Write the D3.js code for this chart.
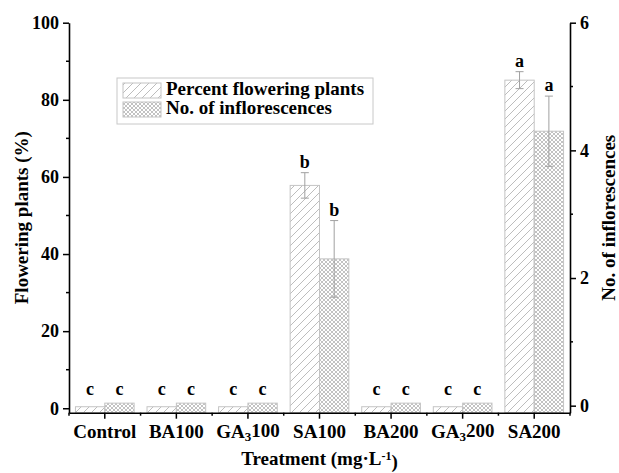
<!DOCTYPE html>
<html>
<head>
<meta charset="utf-8">
<script src="https://cdn.jsdelivr.net/npm/d3@7"></script>
<style>
  body { margin: 0; background: #fff; }
  svg text { font-family: "Liberation Serif", "Times New Roman", serif; font-weight: bold; fill: #000; }
</style>
</head>
<body>
<div id="chart"></div>
<script>
// Data
const treatments = ["Control", "BA100", "GA3100", "SA100", "BA200", "GA3200", "SA200"];
const percentFlowering = [0.4, 0.4, 0.4, 57.8, 0.4, 0.4, 85.1];
const percentErr = [0, 0, 0, 3.3, 0, 0, 2.2];
const percentLetters = ["c", "c", "c", "b", "c", "c", "a"];
const inflorescences = [0.04, 0.04, 0.04, 2.3, 0.04, 0.04, 4.3];
const inflErr = [0, 0, 0, 0.6, 0, 0, 0.55];
const inflLetters = ["c", "c", "c", "b", "c", "c", "a"];
const leftTicks = [0, 20, 40, 60, 80, 100];
const rightTicks = [0, 2, 4, 6];

const W = 619, H = 473;
const plot = {left: 69, right: 570, top: 22.7, bottom: 412.7};

const svg = d3.select("#chart").append("svg")
    .attr("width", W)
    .attr("height", H);

svg.append("rect").attr("width", W).attr("height", H).attr("fill", "#fff");

// patterns
const defs = svg.append("defs");
const hatch = defs.append("pattern")
    .attr("id", "hatch")
    .attr("patternUnits", "userSpaceOnUse")
    .attr("width", 8).attr("height", 8);
hatch.append("path")
    .attr("d", "M-2,10 L10,-2 M-2,2 L2,-2 M6,10 L10,6")
    .attr("stroke", "#b5b5b5").attr("stroke-width", 0.9);

const cross = defs.append("pattern")
    .attr("id", "cross")
    .attr("patternUnits", "userSpaceOnUse")
    .attr("width", 4).attr("height", 4);
cross.append("path")
    .attr("d", "M0,0 L4,4 M4,0 L0,4")
    .attr("stroke", "#a8a8a8").attr("stroke-width", 0.7);

// scales
const x = d3.scaleBand()
    .domain(treatments)
    .range([plot.left, plot.right])
    .padding(0);

const yL = d3.scaleLinear().domain([-1.15, 100]).range([plot.bottom, plot.top]);
const yR = d3.scaleLinear().domain([-0.11, 6]).range([plot.bottom, plot.top]);

const bw = x.bandwidth() * 0.41;

// bars
const g = svg.append("g");
treatments.forEach((t, i) => {
    const cx = x(t) + x.bandwidth() / 2;
    // percent flowering (left axis)
    g.append("rect")
        .attr("x", cx - bw)
        .attr("y", yL(percentFlowering[i]))
        .attr("width", bw)
        .attr("height", plot.bottom - yL(percentFlowering[i]))
        .attr("fill", "url(#hatch)")
        .attr("stroke", "#c4c4c4")
        .attr("stroke-width", 1);
    // inflorescences (right axis)
    g.append("rect")
        .attr("x", cx)
        .attr("y", yR(inflorescences[i]))
        .attr("width", bw)
        .attr("height", plot.bottom - yR(inflorescences[i]))
        .attr("fill", "url(#cross)")
        .attr("stroke", "#c4c4c4")
        .attr("stroke-width", 1);
});

// error bars
function errorBar(xc, yTop, yBot) {
    g.append("line").attr("x1", xc).attr("x2", xc).attr("y1", yTop).attr("y2", yBot)
        .attr("stroke", "#a0a0a0").attr("stroke-width", 1);
    [yTop, yBot].forEach(yy => {
        g.append("line").attr("x1", xc - 4).attr("x2", xc + 4).attr("y1", yy).attr("y2", yy)
            .attr("stroke", "#a0a0a0").attr("stroke-width", 1);
    });
}
treatments.forEach((t, i) => {
    const cx = x(t) + x.bandwidth() / 2;
    const xp = cx - bw / 2, xi = cx + bw / 2;
    if (percentErr[i] > 0) errorBar(xp, yL(percentFlowering[i] + percentErr[i]), yL(percentFlowering[i] - percentErr[i]));
    if (inflErr[i] > 0) errorBar(xi, yR(inflorescences[i] + inflErr[i]), yR(inflorescences[i] - inflErr[i]));

    const ypTop = Math.min(yL(percentFlowering[i] + percentErr[i]) - 5, yL(0) - 13);
    const yiTop = Math.min(yR(inflorescences[i] + inflErr[i]) - 5, yR(0) - 11);
    g.append("text").attr("x", xp).attr("y", ypTop).attr("text-anchor", "middle")
        .style("font-size", "18px").text(percentLetters[i]);
    g.append("text").attr("x", xi).attr("y", yiTop).attr("text-anchor", "middle")
        .style("font-size", "18px").text(inflLetters[i]);
});

// axes
const axisFont = "19px";

const xAxis = svg.append("g")
    .attr("transform", `translate(0,${plot.bottom})`)
    .call(d3.axisBottom(x).tickSize(6).tickSizeOuter(0).tickPadding(6));
xAxis.select(".domain").attr("stroke-width", 1.6);
xAxis.selectAll(".tick line").attr("stroke-width", 1.5);
xAxis.selectAll(".tick text")
    .style("font-size", axisFont)
    .each(function(d) {
        const el = d3.select(this);
        if (d.startsWith("GA3")) {
            el.text(null);
            el.append("tspan").text("GA");
            el.append("tspan").attr("dy", "0.2em").style("font-size", "13px").text("3");
            el.append("tspan").attr("dy", "-0.2em").text(d.slice(3));
        }
    });
// minor ticks at category boundaries
const bounds = treatments.map(t => x(t)).concat([plot.right]);
svg.append("g").selectAll("line").data(bounds).join("line")
    .attr("x1", d => d).attr("x2", d => d)
    .attr("y1", plot.bottom).attr("y2", plot.bottom + 3)
    .attr("stroke", "#000").attr("stroke-width", 1.5);

const leftAxis = svg.append("g")
    .attr("transform", `translate(${plot.left},0)`)
    .call(d3.axisLeft(yL).tickValues(leftTicks).tickSize(6).tickSizeOuter(0).tickPadding(4));
leftAxis.select(".domain").attr("stroke-width", 1.6);
leftAxis.selectAll(".tick line").attr("stroke-width", 1.5);
leftAxis.selectAll(".tick text").style("font-size", "18px");
svg.append("g").selectAll("line").data([10, 30, 50, 70, 90]).join("line")
    .attr("x1", plot.left - 3).attr("x2", plot.left)
    .attr("y1", d => yL(d)).attr("y2", d => yL(d))
    .attr("stroke", "#000").attr("stroke-width", 1.5);

const rightAxis = svg.append("g")
    .attr("transform", `translate(${plot.right},0)`)
    .call(d3.axisRight(yR).tickValues(rightTicks).tickFormat(d3.format("d"))
        .tickSize(6).tickSizeOuter(0).tickPadding(4));
rightAxis.select(".domain").attr("stroke-width", 1.6);
rightAxis.selectAll(".tick line").attr("stroke-width", 1.5);
rightAxis.selectAll(".tick text").style("font-size", "18px");
svg.append("g").selectAll("line").data([1, 3, 5]).join("line")
    .attr("x1", plot.right).attr("x2", plot.right + 3)
    .attr("y1", d => yR(d)).attr("y2", d => yR(d))
    .attr("stroke", "#000").attr("stroke-width", 1.5);

// axis titles
svg.append("text")
    .attr("transform", `translate(28,${(plot.top + plot.bottom) / 2}) rotate(-90)`)
    .attr("text-anchor", "middle")
    .style("font-size", axisFont)
    .text("Flowering plants (%)");

svg.append("text")
    .attr("transform", `translate(615,${(plot.top + plot.bottom) / 2}) rotate(-90)`)
    .attr("text-anchor", "middle")
    .style("font-size", axisFont)
    .text("No. of inflorescences");

const xt = svg.append("text")
    .attr("x", (plot.left + plot.right) / 2)
    .attr("y", 465)
    .attr("text-anchor", "middle")
    .style("font-size", axisFont);
xt.append("tspan").text("Treatment (mg·L");
xt.append("tspan").attr("dy", "-0.45em").style("font-size", "12px").text("-1");
xt.append("tspan").attr("dy", "0.45em").text(")");

// legend
const legend = svg.append("g");
legend.append("rect")
    .attr("x", 117).attr("y", 78).attr("width", 256).attr("height", 46)
    .attr("fill", "#fff").attr("stroke", "#c8c8c8").attr("stroke-width", 1);
const legendItems = [
    {label: "Percent flowering plants", fill: "url(#hatch)", y: 83},
    {label: "No. of inflorescences", fill: "url(#cross)", y: 102}
];
legendItems.forEach(d => {
    legend.append("rect")
        .attr("x", 123).attr("y", d.y).attr("width", 38).attr("height", 15)
        .attr("fill", d.fill).attr("stroke", "#c4c4c4");
    legend.append("text")
        .attr("x", 166).attr("y", d.y + 12)
        .style("font-size", axisFont)
        .text(d.label);
});
</script>
</body>
</html>
